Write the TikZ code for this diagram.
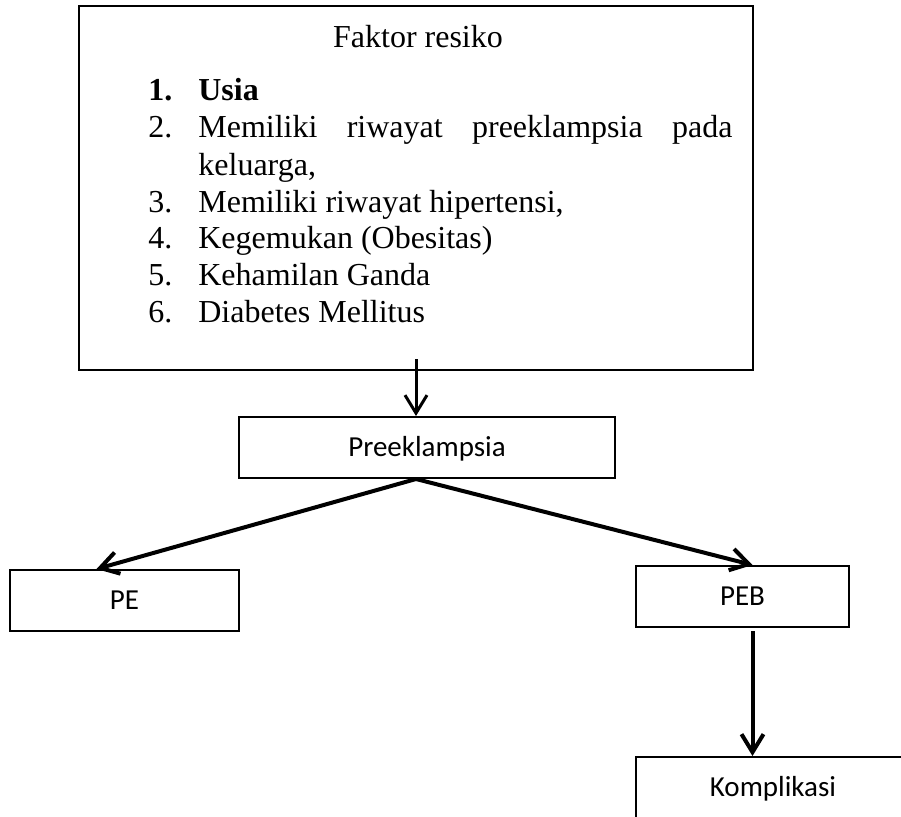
\documentclass[tikz,border=0pt]{standalone}
\usepackage{fontspec}
\setmainfont{Liberation Serif}
\newfontfamily\calibri{Carlito}
\usetikzlibrary{arrows.meta}

\begin{document}
\begin{tikzpicture}[x=0.5pt,y=-0.5pt]
\tikzset{box/.style = {shape=rectangle,draw,line width=1pt,inner sep=0pt,minimum height=30.5pt,
  font=\calibri\fontsize{14.5}{17}\selectfont,text height=9.3pt,text depth=0pt}}
\tikzset{itemtext/.style = {anchor=base west,inner sep=0pt,font=\fontsize{16}{18.5}\selectfont}}
\tikzset{edge/.style = {-{Straight Barb[length=9pt,width=11pt]},line width=2pt}}
\useasboundingbox (0,0) rectangle (901,816);
\clip (0,0) rectangle (901,816);
\node[box,minimum width=337pt,minimum height=182pt] (faktor) at (416,188) {};
\node[itemtext,anchor=base] (judul) at (418,47) {Faktor resiko};
\node[itemtext] (u1) at (148,100) {\textbf{\makebox[25pt][l]{1.}Usia}};
\node[itemtext] (u2) at (148,137) {\makebox[25pt][l]{2.}\makebox[267pt][s]{Memiliki riwayat preeklampsia pada}};
\node[itemtext] (u2b) at (198,175) {keluarga,};
\node[itemtext] (u3) at (148,212) {\makebox[25pt][l]{3.}Memiliki riwayat hipertensi,};
\node[itemtext] (u4) at (148,248) {\makebox[25pt][l]{4.}Kegemukan (Obesitas)};
\node[itemtext] (u5) at (148,285) {\makebox[25pt][l]{5.}Kehamilan Ganda};
\node[itemtext] (u6) at (148,322) {\makebox[25pt][l]{6.}Diabetes Mellitus};
\node[box,minimum width=188pt] (pre) at (427,447.5) {Preeklampsia};
\node[box,minimum width=114.5pt] (pe) at (124.5,600.5) {PE};
\node[box,minimum width=106.5pt] (peb) at (742.5,596.5) {PEB};
\node[box,minimum width=137pt] (komp) at (773,787.5) {Komplikasi};
\draw[edge,line width=1.5pt] ([yshift=6pt]faktor.south) -- (faktor.south |- pre.north);
\draw[edge] (faktor.south |- pre.south) -- ([xshift=-14pt]pe.north);
\draw[edge] (faktor.south |- pre.south) -- ([xshift=5pt]peb.north);
\draw[edge] ([xshift=5pt,yshift=-1.5pt]peb.south) -- ([xshift=5pt]peb.south |- komp.north);
\end{tikzpicture}
\end{document}
